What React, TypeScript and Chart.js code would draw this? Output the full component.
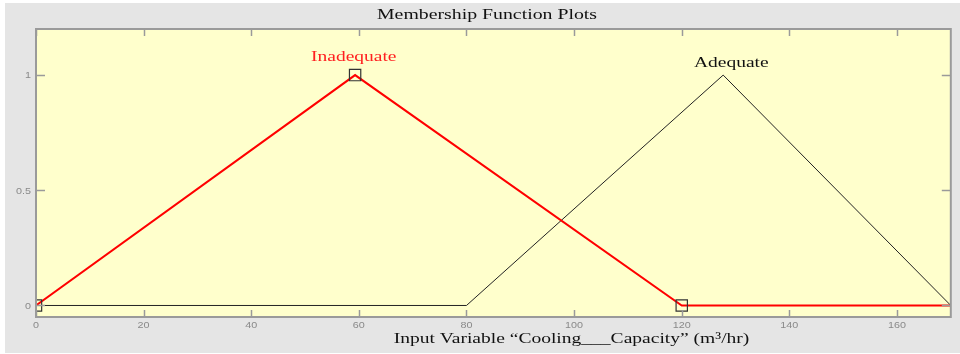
import React, { useEffect, useRef } from "react";
import { Chart, registerables } from "chart.js";

Chart.register(...registerables);

// ---- data ----
const INADEQUATE_X = [0, 59.3, 120, 170];
const INADEQUATE_Y = [0, 1, 0, 0];
const INADEQUATE_MARKER = [1, 1, 1, 0];
const ADEQUATE_X = [0, 80, 127.7, 170];
const ADEQUATE_Y = [0, 0, 1, 0];
const X_TICKS = [0, 20, 40, 60, 80, 100, 120, 140, 160];
const Y_TICKS = [0, 0.5, 1];
const Y_TICK_LABELS = ["0", "0.5", "1"];
const MF_NAMES = ["Inadequate", "Adequate"];
const MF_LABEL_X = [59.05, 129.2];
const MF_LABEL_Y = [1.06, 1.033];
const TITLE = "Membership Function Plots";
const X_TITLE = "Input Variable \u201cCooling___Capacity\u201d (m\u00b3/hr)";

const SERIF = '"Liberation Serif", "DejaVu Serif", serif';
const SANS = '"Liberation Sans", Arial, sans-serif';

function stretchedText(
  ctx: CanvasRenderingContext2D,
  text: string,
  x: number,
  y: number,
  font: string,
  color: string,
  sx: number,
  align: CanvasTextAlign
) {
  ctx.save();
  ctx.translate(x, y);
  ctx.scale(sx, 1);
  ctx.font = font;
  ctx.fillStyle = color;
  ctx.textAlign = align;
  ctx.textBaseline = "alphabetic";
  ctx.fillText(text, 0, 0);
  ctx.restore();
}

const decorPlugin = {
  id: "matlabDecor",
  beforeDraw(chart: any) {
    const ctx: CanvasRenderingContext2D = chart.ctx;
    const a = chart.chartArea;
    ctx.save();
    ctx.fillStyle = "#ffffff";
    ctx.fillRect(0, 0, chart.width, chart.height);
    ctx.fillStyle = "#e5e5e5";
    ctx.fillRect(5, 3, chart.width - 5, chart.height - 4);
    ctx.fillStyle = "#ffffcc";
    ctx.fillRect(a.left, a.top, a.right - a.left, a.bottom - a.top);
    ctx.restore();
  },
  afterDatasetsDraw(chart: any) {
    const ctx: CanvasRenderingContext2D = chart.ctx;
    const a = chart.chartArea;
    const xs = chart.scales.x;
    const ys = chart.scales.y;
    ctx.save();
    // ticks
    ctx.strokeStyle = "#9a9a9a";
    ctx.lineWidth = 1.5;
    ctx.beginPath();
    X_TICKS.forEach((v) => {
      const px = Math.round(xs.getPixelForValue(v)) + 0.5;
      ctx.moveTo(px, a.bottom);
      ctx.lineTo(px, a.bottom - 7);
      ctx.moveTo(px, a.top);
      ctx.lineTo(px, a.top + 7);
    });
    Y_TICKS.forEach((v) => {
      const py = Math.round(ys.getPixelForValue(v)) + 0.5;
      ctx.moveTo(a.left, py);
      ctx.lineTo(a.left + 9, py);
      ctx.moveTo(a.right, py);
      ctx.lineTo(a.right - 9, py);
    });
    ctx.stroke();
    // border
    ctx.strokeStyle = "#9a9a9a";
    ctx.lineWidth = 2;
    ctx.strokeRect(a.left, a.top, a.right - a.left, a.bottom - a.top);
    ctx.restore();

    // tick labels
    X_TICKS.forEach((v) => {
      stretchedText(ctx, String(v), xs.getPixelForValue(v), a.bottom + 11, `9px ${SANS}`, "#8a8a8a", 1.2, "center");
    });
    Y_TICKS.forEach((v, i) => {
      stretchedText(ctx, Y_TICK_LABELS[i], a.left - 5, ys.getPixelForValue(v) + 3.3, `9px ${SANS}`, "#8a8a8a", 1.2, "right");
    });

    // MF names
    const colors = ["#ff2020", "#111111"];
    MF_NAMES.forEach((n, i) => {
      stretchedText(ctx, n, xs.getPixelForValue(MF_LABEL_X[i]), ys.getPixelForValue(MF_LABEL_Y[i]), `15px ${SERIF}`, colors[i], 1.3, "center");
    });

    // titles
    stretchedText(ctx, TITLE, 487, 19, `15px ${SERIF}`, "#111111", 1.32, "center");
    stretchedText(ctx, X_TITLE, 571.5, 343.3, `15.5px ${SERIF}`, "#111111", 1.26, "center");
  },
};

export default function App() {
  const ref = useRef<HTMLCanvasElement | null>(null);
  useEffect(() => {
    document.body.style.margin = "0";
    const canvas = ref.current;
    if (!canvas) return;
    const chart = new Chart(canvas, {
      type: "scatter",
      data: {
        datasets: [
          {
            label: MF_NAMES[0],
            data: INADEQUATE_X.map((x, i) => ({ x, y: INADEQUATE_Y[i] })),
            showLine: true,
            borderColor: "#ff0000",
            borderWidth: 2,
            pointStyle: "rect",
            pointRadius: INADEQUATE_MARKER.map((m) => (m ? 8 : 0)),
            pointBackgroundColor: "rgba(0,0,0,0)",
            pointBorderColor: "#333333",
            pointBorderWidth: 1.2,
            clip: 0,
          } as any,
          {
            label: MF_NAMES[1],
            data: ADEQUATE_X.map((x, i) => ({ x, y: ADEQUATE_Y[i] })),
            showLine: true,
            borderColor: "#222222",
            borderWidth: 1,
            pointRadius: 0,
            clip: 0,
          } as any,
        ],
      },
      options: {
        responsive: false,
        animation: false,
        devicePixelRatio: 1,
        layout: { padding: { left: 36, top: 29, right: 4, bottom: 37 } },
        plugins: { legend: { display: false }, tooltip: { enabled: false }, title: { display: false } },
        events: [],
        scales: {
          x: { type: "linear", min: 0, max: 170, display: false },
          y: { type: "linear", min: -0.05, max: 1.2, display: false },
        },
      },
      plugins: [decorPlugin],
    });
    return () => chart.destroy();
  }, []);
  return (
    <div style={{ position: "absolute", left: 0, top: 0, width: 960, height: 354 }}>
      <canvas ref={ref} width={960} height={354} style={{ width: 960, height: 354, display: "block" }} />
    </div>
  );
}
